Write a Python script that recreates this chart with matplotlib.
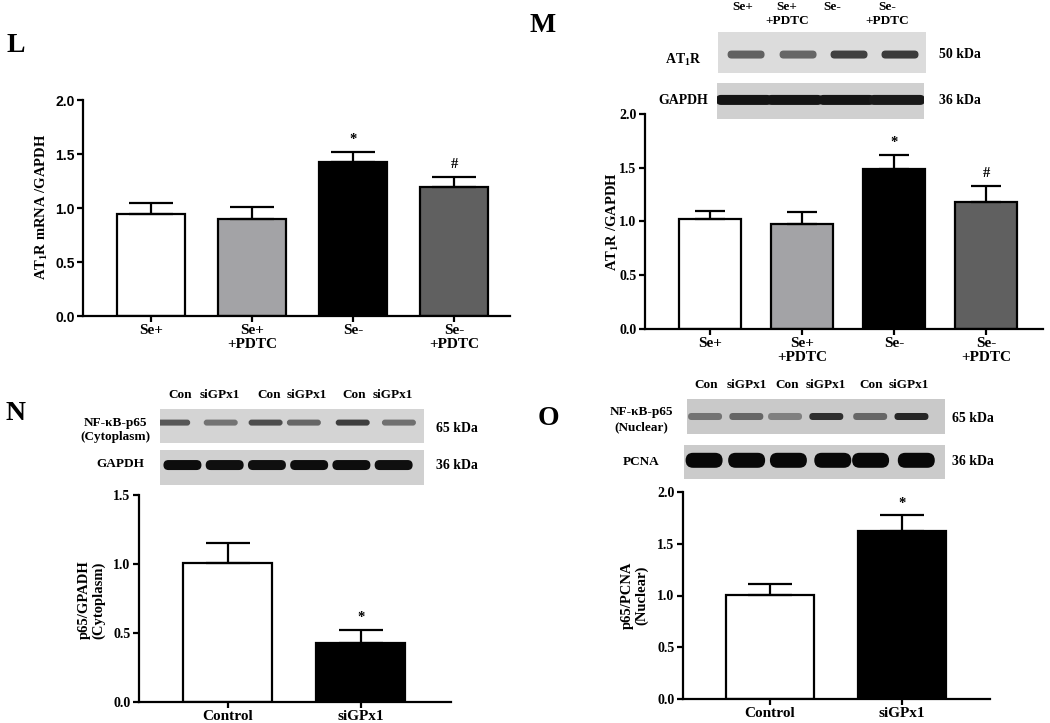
import matplotlib
matplotlib.use("Agg")
import matplotlib.pyplot as plt
from matplotlib.patches import FancyBboxPatch, Rectangle

W, H = 1050, 723
plt.rcParams['font.family'] = ['Liberation Serif', 'DejaVu Serif']
plt.rcParams['font.weight'] = 'bold'
plt.rcParams['mathtext.fontset'] = 'custom'
plt.rcParams['mathtext.rm'] = 'Liberation Serif:bold'
plt.rcParams['mathtext.bf'] = 'Liberation Serif:bold'
plt.rcParams['mathtext.it'] = 'Liberation Serif:bold'

# ---------------- data ----------------
se_groups = ["Se+", "Se+\n+PDTC", "Se-", "Se-\n+PDTC"]
se_colors = ["#ffffff", "#a3a3a6", "#000000", "#606060"]
L_mean = [0.945, 0.895, 1.43, 1.19]
L_sem = [0.105, 0.115, 0.09, 0.10]
L_marks = ["", "", "*", "#"]
M_mean = [1.02, 0.975, 1.485, 1.18]
M_sem = [0.08, 0.11, 0.135, 0.15]
M_marks = ["", "", "*", "#"]

si_groups = ["Control", "siGPx1"]
si_colors = ["#ffffff", "#000000"]
N_mean = [1.005, 0.43]
N_sem = [0.145, 0.095]
N_marks = ["", "*"]
O_mean = [1.007, 1.626]
O_sem = [0.10, 0.15]
O_marks = ["", "*"]

M_lanes = ["Se+", "Se+\n+PDTC", "Se-", "Se-\n+PDTC"]
si_lanes = ["Con", "siGPx1", "Con", "siGPx1", "Con", "siGPx1"]
# band darkness (0 = white, 1 = black)
M_at1r_band = [0.62, 0.6, 0.75, 0.77]
M_gapdh_band = [0.92, 0.92, 0.92, 0.9]
N_p65_band = [0.66, 0.55, 0.7, 0.6, 0.76, 0.56]
N_gapdh_band = [0.95, 0.94, 0.94, 0.95, 0.95, 0.94]
O_p65_band = [0.55, 0.6, 0.5, 0.82, 0.6, 0.85]
O_pcna_band = [0.97, 0.97, 0.97, 0.97, 0.97, 0.97]

fig = plt.figure(figsize=(W / 100, H / 100), dpi=100)
fig.patch.set_facecolor("white")


def fx(x):
    return x / W


def fy(y):
    return 1 - y / H


def txt(x, y, s, size=9.5, ha="center", va="center", **kw):
    fig.text(fx(x), fy(y), s, ha=ha, va=va, fontsize=size, fontweight="bold", **kw)


def bar_panel(box, xlim, ylim, yticks, mean, sem, colors, labels, marks,
              capsize, ysans=False, xlabsize=11, ylabsize=10):
    x0, y0, x1, y1 = box
    ax = fig.add_axes([fx(x0), fy(y1), (x1 - x0) / W, (y1 - y0) / H])
    n = len(mean)
    xs = list(range(n))
    ax.bar(xs, mean, width=0.67, color=colors, edgecolor="black", linewidth=1.6, zorder=2)
    ax.errorbar(xs, mean, yerr=[[0] * n, sem], fmt="none", ecolor="black",
                elinewidth=1.6, capsize=capsize, capthick=1.6, zorder=3)
    for i in range(n):
        if marks[i]:
            ax.annotate(marks[i], (i, mean[i] + sem[i]), xytext=(0, 4),
                        textcoords="offset points", ha="center", va="bottom",
                        fontsize=10.5, fontweight="bold")
    ax.set_xlim(*xlim)
    ax.set_ylim(*ylim)
    ax.set_yticks(yticks)
    ax.set_yticklabels([f"{v:.1f}" for v in yticks])
    ax.set_xticks(xs)
    ax.set_xticklabels(labels, linespacing=1.05)
    for sp in ("top", "right"):
        ax.spines[sp].set_visible(False)
    for sp in ("left", "bottom"):
        ax.spines[sp].set_linewidth(1.6)
    ax.tick_params(direction="out", length=4, width=1.6, pad=2)
    for lb in ax.get_xticklabels():
        lb.set_fontsize(xlabsize)
        lb.set_fontweight("bold")
    for lb in ax.get_yticklabels():
        lb.set_fontsize(ylabsize)
        lb.set_fontweight("bold")
        if ysans:
            lb.set_family("Liberation Sans")
    ax.patch.set_alpha(0)
    return ax


def blot(box, bg, centers, cy, bw, bh, dark):
    x0, y0, x1, y1 = box
    w, h = x1 - x0, y1 - y0
    ax = fig.add_axes([fx(x0), fy(y1), w / W, h / H])
    ax.set_xlim(0, w)
    ax.set_ylim(0, h)
    ax.axis("off")
    ax.add_patch(Rectangle((0, 0), w, h, color=bg, lw=0))
    for c, d in zip(centers, dark):
        g = str(max(0.0, 1 - d))
        ax.add_patch(FancyBboxPatch((c * w - bw / 2 + bh / 2, h * cy - 0.005),
                                    bw - bh, 0.01,
                                    boxstyle=f"round,pad={bh/2},rounding_size={bh/2}",
                                    fc=g, ec="none", lw=0))
    return ax


# ---------------- panel L ----------------
txt(16, 46, "L", size=20)
bar_panel((83, 100, 510, 316), (-0.67, 3.55), (0, 2), [0, 0.5, 1.0, 1.5, 2.0],
          L_mean, L_sem, se_colors, se_groups, L_marks, capsize=16, ysans=True,
          ylabsize=10)
fig.text(fx(42), fy(207), r"AT$_\mathbf{1}$R mRNA /GAPDH", rotation=90,
         ha="center", va="center", fontsize=10.5, fontweight="bold")

# ---------------- panel M ----------------
txt(543, 26, "M", size=20)
bar_panel((645, 114, 1043, 329), (-0.71, 3.62), (0, 2), [0, 0.5, 1.0, 1.5, 2.0],
          M_mean, M_sem, se_colors, se_groups, M_marks, capsize=11)
fig.text(fx(613), fy(222), r"AT$_\mathbf{1}$R /GAPDH", rotation=90,
         ha="center", va="center", fontsize=10.5, fontweight="bold")
blot((718, 32, 926, 73), "#dcdcdc", [0.135, 0.385, 0.63, 0.875], 0.45, 37, 8, M_at1r_band)
blot((717, 83, 924, 119), "#d0d0d0", [0.13, 0.375, 0.625, 0.87], 0.53, 56, 10, M_gapdh_band)
for xp, lab in zip([743, 787, 832, 887], M_lanes):
    for k, line in enumerate(lab.split("\n")):
        txt(xp, 10 + 14.5 * k, line, size=9.5, va="baseline")
txt(683, 60, r"AT$_\mathbf{1}$R", size=10)
txt(683, 100, "GAPDH", size=10)
txt(960, 54, "50 kDa", size=10)
txt(960, 101, "36 kDa", size=10)

# ---------------- panel N ----------------
txt(16, 413, "N", size=20)
bar_panel((139, 495, 451, 702), (-0.67, 1.68), (0, 1.5), [0, 0.5, 1.0, 1.5],
          N_mean, N_sem, si_colors, si_groups, N_marks, capsize=15.5)
fig.text(fx(92), fy(600), "p65/GPADH\n(Cytoplasm)", rotation=90, ha="center",
         va="center", fontsize=10.5, fontweight="bold", multialignment="center",
         linespacing=1.1)
blot((160, 409, 424, 443), "#d4d4d4", [0.05, 0.23, 0.40, 0.545, 0.73, 0.905], 0.6, 34, 6,
     N_p65_band)
blot((160, 450, 424, 485), "#d0d0d0", [0.085, 0.245, 0.405, 0.565, 0.725, 0.885], 0.57, 38, 10,
     N_gapdh_band)
for xp, lab in zip([180, 220, 269, 307, 354, 393], si_lanes):
    txt(xp, 398, lab, size=9.5, va="baseline")
txt(115, 423, "NF-κB-p65", size=9.5)
txt(115, 437, "(Cytoplasm)", size=9.5)
txt(120, 464, "GAPDH", size=9.5)
txt(457, 428, "65 kDa", size=10)
txt(457, 465, "36 kDa", size=10)

# ---------------- panel O ----------------
txt(548, 418, "O", size=20)
bar_panel((683, 492, 990, 699), (-0.66, 1.67), (0, 2), [0, 0.5, 1.0, 1.5, 2.0],
          O_mean, O_sem, si_colors, si_groups, O_marks, capsize=15.5)
fig.text(fx(635), fy(595), "p65/PCNA\n(Nuclear)", rotation=90, ha="center",
         va="center", fontsize=10.5, fontweight="bold", multialignment="center",
         linespacing=1.1)
blot((687, 399, 945, 434), "#c9c9c9", [0.07, 0.23, 0.38, 0.54, 0.71, 0.87], 0.5, 34, 7,
     O_p65_band)
blot((684, 445, 945, 479), "#cbcbcb", [0.077, 0.24, 0.40, 0.57, 0.715, 0.89], 0.55, 37, 15,
     O_pcna_band)
for xp, lab in zip([706, 747, 787, 826, 871, 909], si_lanes):
    txt(xp, 388, lab, size=9.5, va="baseline")
txt(641, 412, "NF-κB-p65", size=9.5)
txt(641, 427, "(Nuclear)", size=9.5)
txt(641, 462, "PCNA", size=9.5)
txt(952, 418, "65 kDa", size=10, ha="left")
txt(952, 462, "36 kDa", size=10, ha="left")

fig.savefig("out.png", dpi=100, facecolor="white")
